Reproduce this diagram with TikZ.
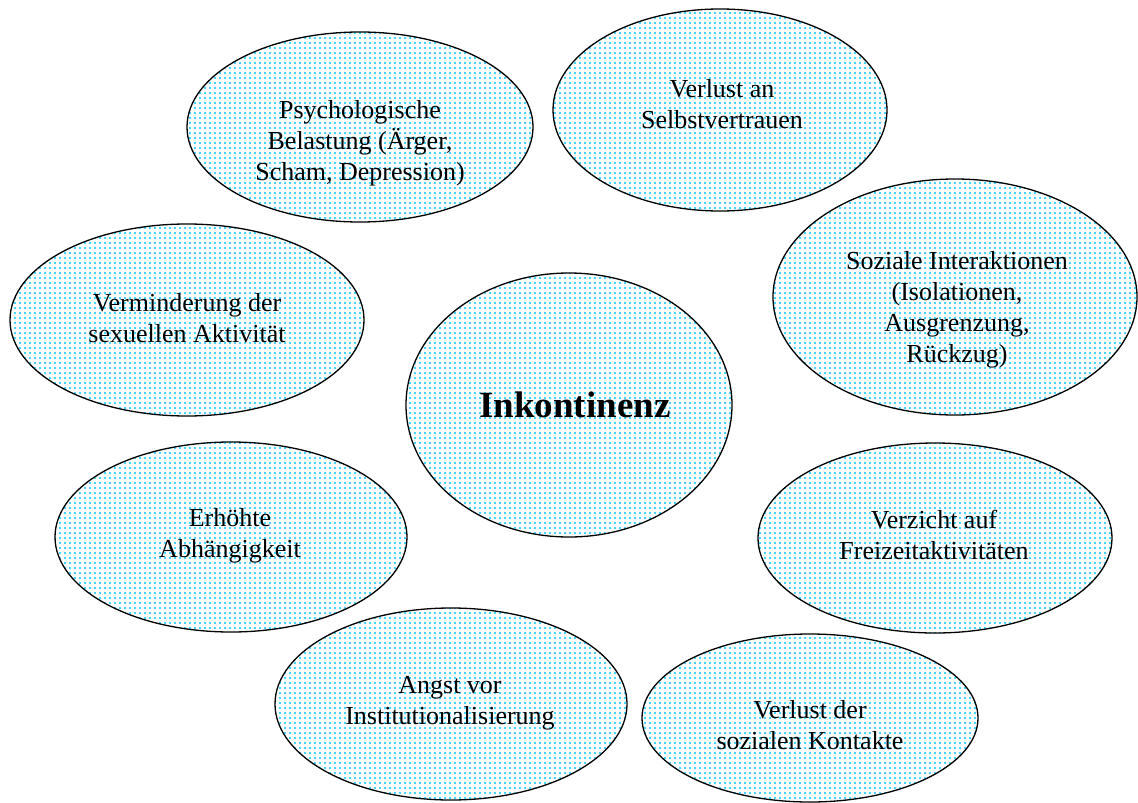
\documentclass[tikz,border=0pt]{standalone}
\usepackage{fontspec}
\setmainfont{Liberation Serif}
\usetikzlibrary{shapes.geometric,patterns.meta}
\definecolor{dotcyan}{RGB}{0,200,255}
\begin{document}
\begin{tikzpicture}[x=1pt,y=-1pt,
  bub/.style={ellipse, draw=black, line width=1.3pt,
    pattern={Dots[distance=5pt,radius=1.05pt]}, pattern color=dotcyan,
    inner sep=0pt, outer sep=0pt},
  lbl/.style={align=center, font=\fontsize{26}{31}\selectfont, inner sep=0pt},
  big/.style={align=center, font=\fontsize{37}{42}\selectfont\bfseries, inner sep=0pt}]
\useasboundingbox[fill=white] (0,0) rectangle (1138,803);

\node[bub, minimum width=346pt, minimum height=190pt] (psy) at (360,127) {};
\node[lbl] (psyT) at (360,143) {Psychologische\\Belastung (Ärger,\\Scham, Depression)};

\node[bub, minimum width=334pt, minimum height=202pt] (sel) at (720,110) {};
\node[lbl] (selT) at (722,104) {Verlust an\\Selbstvertrauen};

\node[bub, minimum width=364pt, minimum height=236pt] (soz) at (955,297) {};
\node[lbl] (sozT) at (957,310) {Soziale Interaktionen\\(Isolationen,\\Ausgrenzung,\\Rückzug)};

\node[bub, minimum width=354pt, minimum height=192pt] (sex) at (187,320) {};
\node[lbl] (sexT) at (187,318) {Verminderung der\\sexuellen Aktivität};

\node[bub, minimum width=326pt, minimum height=264pt] (ink) at (569,405) {};
\node[big] (inkT) at (575,405) {Inkontinenz};

\node[bub, minimum width=352pt, minimum height=190pt] (abh) at (231,537) {};
\node[lbl] (abhT) at (230,536) {Erhöhte\\Abhängigkeit};

\node[bub, minimum width=354pt, minimum height=190pt] (frz) at (935,538) {};
\node[lbl] (frzT) at (934,535) {Verzicht auf\\Freizeitaktivitäten};

\node[bub, minimum width=352pt, minimum height=192pt] (ang) at (451,704) {};
\node[lbl] (angT) at (450,703) {Angst vor\\Institutionalisierung};

\node[bub, minimum width=336pt, minimum height=168pt] (kon) at (810,718) {};
\node[lbl] (konT) at (810,725) {Verlust der\\sozialen Kontakte};
\end{tikzpicture}
\end{document}
